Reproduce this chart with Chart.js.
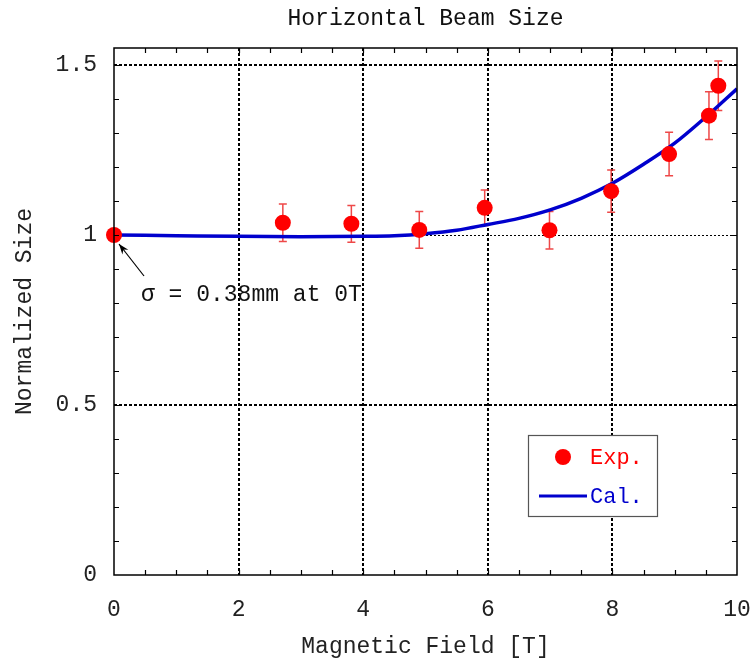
<!DOCTYPE html>
<html><head><meta charset="utf-8">
<script src="https://cdn.jsdelivr.net/npm/chart.js@4/dist/chart.umd.min.js"></script>
<style>html,body{margin:0;padding:0;background:#fff}#wrap{width:754px;height:666px;position:relative}</style>
</head><body><div id="wrap"><canvas id="c" width="754" height="666"></canvas></div>
<script>
// ---- data ----
const chartTitle = "Horizontal Beam Size";
const xTitle = "Magnetic Field [T]";
const yTitle = "Normalized Size";
const annotationText = "\u03C3 = 0.38mm at 0T";
const expLabel = "Exp.";
const calLabel = "Cal.";

const expX   = [0, 2.71, 3.81, 4.90, 5.95, 6.99, 7.98, 8.91, 9.55, 9.70];
const expY   = [1.0, 1.036, 1.033, 1.015, 1.080, 1.014, 1.129, 1.238, 1.351, 1.439];
const expErr = [0, 0.055, 0.054, 0.054, 0.052, 0.055, 0.062, 0.064, 0.070, 0.073];

const calX = [0, 1, 2, 3, 4, 4.5, 5, 5.5, 6, 6.5, 7, 7.5, 8, 8.5, 9, 9.5, 10];
const calY = [1.0, 0.998, 0.996, 0.995, 0.996, 0.998, 1.004, 1.014, 1.031, 1.049, 1.074, 1.108, 1.152, 1.208, 1.27, 1.347, 1.43];

const xMin = 0, xMax = 10, xStep = 2, xMinor = 0.5;
const yMin = 0, yMax = 1.55, yStep = 0.5, yMinor = 0.1;

const FONT = "'Liberation Mono', 'DejaVu Sans Mono', monospace";
const RED = '#ff0000';
const BLUE = '#0000cd';

const expPoints = expX.map((x, i) => ({x, y: expY[i]}));
const calPoints = calX.map((x, i) => ({x, y: calY[i]}));

const decor = {
  id: 'decor',
  beforeDatasetsDraw(chart) {
    const {ctx, scales: {x, y}} = chart;
    ctx.save();
    ctx.strokeStyle = 'rgba(235,40,40,0.85)';
    ctx.lineWidth = 1.5;
    expX.forEach((v, i) => {
      if (!expErr[i]) return;
      const px = x.getPixelForValue(v);
      const top = y.getPixelForValue(expY[i] + expErr[i]);
      const bot = y.getPixelForValue(expY[i] - expErr[i]);
      ctx.beginPath();
      ctx.moveTo(px, top); ctx.lineTo(px, bot);
      ctx.moveTo(px - 4, top); ctx.lineTo(px + 4, top);
      ctx.moveTo(px - 4, bot); ctx.lineTo(px + 4, bot);
      ctx.stroke();
    });
    ctx.restore();
  },
  afterDraw(chart) {
    const {ctx, chartArea: a, scales: {x, y}} = chart;
    ctx.save();
    ctx.strokeStyle = '#000';
    ctx.lineWidth = 1.2;
    ctx.beginPath();
    for (let v = xMin + xMinor; v < xMax - 1e-9; v += xMinor) {
      const px = Math.round(x.getPixelForValue(v)) + 0.5;
      ctx.moveTo(px, a.bottom); ctx.lineTo(px, a.bottom - 5);
      ctx.moveTo(px, a.top); ctx.lineTo(px, a.top + 5);
    }
    for (let v = yMin + yMinor; v < yMax - 1e-9; v += yMinor) {
      const py = Math.round(y.getPixelForValue(v)) + 0.5;
      ctx.moveTo(a.left, py); ctx.lineTo(a.left + 5, py);
      ctx.moveTo(a.right, py); ctx.lineTo(a.right - 5, py);
    }
    ctx.stroke();
    ctx.lineWidth = 1.5;
    ctx.strokeRect(a.left, a.top, a.right - a.left, a.bottom - a.top);

    ctx.fillStyle = '#111';
    ctx.font = "23px " + FONT;
    ctx.textAlign = 'center';
    ctx.textBaseline = 'middle';
    ctx.fillText(chartTitle, (a.left + a.right) / 2, 19);

    const tipX = x.getPixelForValue(expX[0]) + 5;
    const tipY = y.getPixelForValue(expY[0]) + 9;
    const tailX = tipX + 25, tailY = tipY + 32;
    ctx.strokeStyle = '#000';
    ctx.lineWidth = 1.2;
    ctx.beginPath(); ctx.moveTo(tailX, tailY); ctx.lineTo(tipX, tipY); ctx.stroke();
    const ang = Math.atan2(tipY - tailY, tipX - tailX);
    ctx.beginPath();
    ctx.moveTo(tipX, tipY);
    ctx.lineTo(tipX - 11 * Math.cos(ang - 0.35), tipY - 11 * Math.sin(ang - 0.35));
    ctx.lineTo(tipX - 7 * Math.cos(ang), tipY - 7 * Math.sin(ang));
    ctx.lineTo(tipX - 11 * Math.cos(ang + 0.35), tipY - 11 * Math.sin(ang + 0.35));
    ctx.closePath();
    ctx.fillStyle = '#000';
    ctx.fill();
    ctx.fillStyle = '#111';
    ctx.textAlign = 'left';
    ctx.font = "23px " + FONT;
    ctx.fillText(annotationText, tailX - 3, tailY + 19);

    const lx = 528, ly = 435, lw = 129, lh = 81;
    ctx.fillStyle = '#fff';
    ctx.fillRect(lx, ly, lw, lh);
    ctx.strokeStyle = '#555';
    ctx.lineWidth = 1.2;
    ctx.strokeRect(lx + 0.5, ly + 0.5, lw, lh);
    ctx.fillStyle = RED;
    ctx.beginPath(); ctx.arc(lx + 35, ly + 22, 8, 0, Math.PI * 2); ctx.fill();
    ctx.font = "22px " + FONT;
    ctx.textBaseline = 'middle';
    ctx.fillText(expLabel, lx + 62, ly + 23);
    ctx.strokeStyle = BLUE;
    ctx.lineWidth = 3;
    ctx.beginPath(); ctx.moveTo(lx + 11, ly + 61); ctx.lineTo(lx + 59, ly + 61); ctx.stroke();
    ctx.fillStyle = BLUE;
    ctx.fillText(calLabel, lx + 62, ly + 62);
    ctx.restore();
  }
};

new Chart(document.getElementById('c'), {
  type: 'scatter',
  data: {
    datasets: [
      {
        label: expLabel,
        data: expPoints,
        backgroundColor: RED,
        borderColor: RED,
        pointRadius: 8,
        pointHoverRadius: 8,
        borderWidth: 0,
        showLine: false,
        clip: false
      },
      {
        label: calLabel,
        type: 'line',
        data: calPoints,
        borderColor: BLUE,
        borderWidth: 3.5,
        pointRadius: 0,
        fill: false,
        tension: 0.4,
        cubicInterpolationMode: 'monotone'
      }
    ]
  },
  options: {
    responsive: false,
    animation: false,
    devicePixelRatio: 1,
    layout: { padding: { left: 0, top: 48, right: 17, bottom: 0 } },
    plugins: { legend: { display: false }, title: { display: false }, tooltip: { enabled: false } },
    scales: {
      x: {
        type: 'linear', min: xMin, max: xMax,
        afterFit(s) { s.height = 91; s.paddingLeft = 0; s.paddingRight = 0; },
        ticks: { stepSize: xStep, padding: 21, color: '#222', font: { family: FONT, size: 23 }, maxRotation: 0 },
        grid: {
          drawTicks: false,
          color: c => (c.tick && (c.tick.value === xMin || c.tick.value === xMax)) ? 'rgba(0,0,0,0)' : '#000',
          lineWidth: 2
        },
        border: { display: false, dash: [3, 2] },
        title: { display: true, text: xTitle, color: '#222', font: { family: FONT, size: 23 }, padding: { top: 0, bottom: 5 } }
      },
      y: {
        type: 'linear', min: yMin, max: yMax,
        afterFit(s) { s.width = 114; s.paddingTop = 0; s.paddingBottom = 0; },
        ticks: {
          stepSize: yStep, includeBounds: false, padding: 17, color: '#222',
          font: { family: FONT, size: 23 },
          callback: v => String(+v.toFixed(2))
        },
        grid: {
          drawTicks: false,
          color: c => (c.tick && c.tick.value === yMin) ? 'rgba(0,0,0,0)' : '#000',
          lineWidth: c => (c.tick && c.tick.value === 1) ? 1 : 2
        },
        border: { display: false, dash: c => (c.tick && c.tick.value === 1) ? [2, 2] : [3, 2] },
        title: { display: true, text: yTitle, color: '#222', font: { family: FONT, size: 23 }, padding: { top: 11, bottom: 0 } }
      }
    }
  },
  plugins: [decor]
});
</script>
</body></html>
